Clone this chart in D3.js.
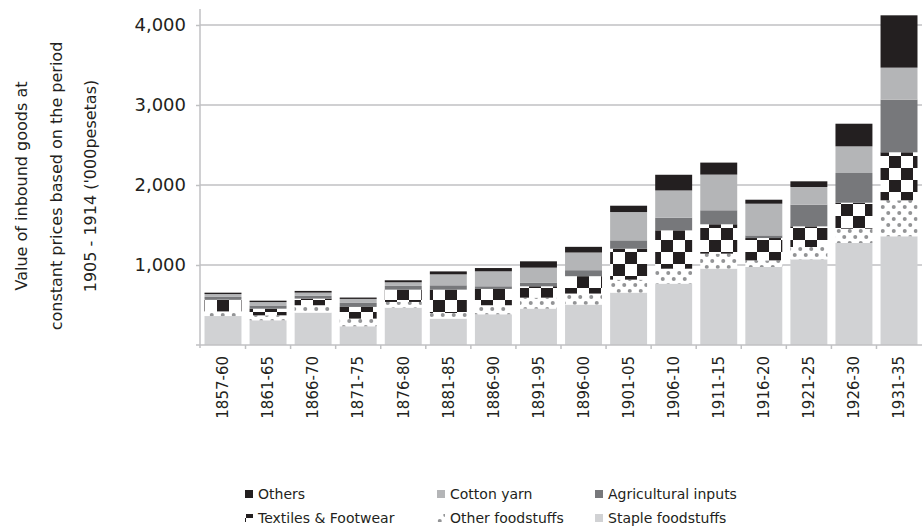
<!DOCTYPE html>
<html lang="en">
<head>
    <meta charset="UTF-8">
    <title>Value of inbound goods</title>
    <script src="https://cdnjs.cloudflare.com/ajax/libs/d3/7.8.5/d3.min.js"></script>
    <style>
        body {
            margin: 0;
            background: #fff;
            font-family: "DejaVu Sans", sans-serif;
        }
        svg text {
            fill: #231f20;
        }
    </style>
</head>
<body>
    <svg id="chart" width="922" height="529"></svg>

    <script>
        // periods on the x axis
        const periods = ["1857-60", "1861-65", "1866-70", "1871-75", "1876-80", "1881-85", "1886-90", "1891-95",
            "1896-00", "1901-05", "1906-10", "1911-15", "1916-20", "1921-25", "1926-30", "1931-35"];

        // series values, '000 pesetas (stacked bottom to top)
        const staple = [362, 309, 405, 234, 467, 330, 384, 455, 505, 655, 767, 955, 975, 1071, 1275, 1359];
        const otherFood = [58, 62, 92, 96, 71, 70, 113, 137, 138, 162, 187, 187, 83, 154, 179, 450];
        const textiles = [146, 83, 83, 146, 154, 292, 204, 142, 217, 387, 479, 367, 279, 258, 325, 600];
        const agri = [35, 40, 35, 50, 47, 54, 33, 46, 75, 104, 158, 175, 33, 271, 371, 658];
        const cotton = [36, 43, 40, 50, 45, 137, 187, 187, 221, 354, 341, 446, 396, 221, 333, 400];
        const others = [17, 17, 21, 17, 25, 37, 41, 79, 71, 79, 196, 150, 50, 71, 283, 654];

        const yTicks = [0, 1000, 2000, 3000, 4000];

        const seriesKeys = ["staple", "otherFood", "textiles", "agri", "cotton", "others"];
        const seriesNames = {
            staple: "Staple foodstuffs",
            otherFood: "Other foodstuffs",
            textiles: "Textiles & Footwear",
            agri: "Agricultural inputs",
            cotton: "Cotton yarn",
            others: "Others"
        };
        const fills = {
            staple: "#d1d2d4",
            otherFood: "url(#dots)",
            textiles: "url(#checker)",
            agri: "#77787b",
            cotton: "#b4b5b7",
            others: "#231f20"
        };
        const legendOrder = ["others", "cotton", "agri", "textiles", "otherFood", "staple"];

        const table = periods.map((p, i) => ({
            period: p,
            staple: staple[i],
            otherFood: otherFood[i],
            textiles: textiles[i],
            agri: agri[i],
            cotton: cotton[i],
            others: others[i]
        }));

        const svg = d3.select("#chart");
        const gridColor = "#c0c1c3";

        // patterns
        const defs = svg.append("defs");
        const checker = defs.append("pattern")
            .attr("id", "checker")
            .attr("patternUnits", "userSpaceOnUse")
            .attr("x", 205).attr("y", 0)
            .attr("width", 24).attr("height", 24);
        checker.append("rect").attr("width", 24).attr("height", 24).attr("fill", "#fff");
        checker.append("rect").attr("width", 12).attr("height", 12).attr("fill", "#231f20");
        checker.append("rect").attr("x", 12).attr("y", 12).attr("width", 12).attr("height", 12).attr("fill", "#231f20");

        const dots = defs.append("pattern")
            .attr("id", "dots")
            .attr("patternUnits", "userSpaceOnUse")
            .attr("width", 11).attr("height", 12);
        dots.append("rect").attr("width", 11).attr("height", 12).attr("fill", "#fff");
        dots.append("circle").attr("cx", 2.75).attr("cy", 3).attr("r", 2).attr("fill", "#939496");
        dots.append("circle").attr("cx", 8.25).attr("cy", 9).attr("r", 2).attr("fill", "#939496");

        const x = d3.scaleBand()
            .domain(periods)
            .range([200, 922])
            .paddingInner(0.18)
            .paddingOuter(0.1);

        const y = d3.scaleLinear()
            .domain([0, 4200])
            .range([345, 9]);

        // gridlines
        svg.append("g")
            .selectAll("line")
            .data(yTicks.slice(1))
            .join("line")
            .attr("x1", 200).attr("x2", 922)
            .attr("y1", d => y(d)).attr("y2", d => y(d))
            .attr("stroke", gridColor)
            .attr("stroke-width", 1.5);

        // bars
        const stacked = d3.stack().keys(seriesKeys)(table);
        svg.append("g")
            .selectAll("g")
            .data(stacked)
            .join("g")
            .attr("fill", d => fills[d.key])
            .selectAll("rect")
            .data(d => d)
            .join("rect")
            .attr("x", d => x(d.data.period))
            .attr("width", x.bandwidth())
            .attr("y", d => y(d[1]))
            .attr("height", d => y(d[0]) - y(d[1]));

        // y axis
        const yAxis = svg.append("g")
            .attr("transform", "translate(200,0)")
            .call(d3.axisLeft(y).tickValues(yTicks.slice(1)).tickSize(4).tickPadding(10)
                .tickFormat(d3.format(",")));
        yAxis.select(".domain").remove();
        yAxis.selectAll(".tick line").attr("stroke", gridColor).attr("stroke-width", 1.5);
        yAxis.selectAll(".tick text")
            .attr("font-family", "DejaVu Sans")
            .attr("font-size", 18)
            .attr("fill", "#231f20");
        svg.append("line")
            .attr("x1", 200).attr("x2", 200)
            .attr("y1", y(4200)).attr("y2", y(0) + 3)
            .attr("stroke", gridColor).attr("stroke-width", 1.5);
        svg.append("line")
            .attr("x1", 196).attr("x2", 200)
            .attr("y1", y(0)).attr("y2", y(0))
            .attr("stroke", gridColor).attr("stroke-width", 1.5);

        // x axis
        svg.append("line")
            .attr("x1", 200).attr("x2", 922)
            .attr("y1", y(0)).attr("y2", y(0))
            .attr("stroke", gridColor).attr("stroke-width", 1.5);
        const gap = x.step() * x.paddingInner();
        svg.append("g")
            .selectAll("line")
            .data(periods.slice(1))
            .join("line")
            .attr("x1", d => x(d) - gap / 2).attr("x2", d => x(d) - gap / 2)
            .attr("y1", y(0)).attr("y2", y(0) + 4)
            .attr("stroke", gridColor).attr("stroke-width", 1.5);

        svg.append("g")
            .selectAll("text")
            .data(periods)
            .join("text")
            .attr("transform", d => `translate(${x(d) + x.bandwidth() / 2},356) rotate(-90)`)
            .attr("text-anchor", "end")
            .attr("dy", "0.35em")
            .attr("font-size", 15)
            .text(d => d);

        // y axis title
        const titleLines = ["Value of inbound goods at", "constant prices based on the period", "1905 - 1914 ('000pesetas)"];
        const titleX = [21, 56, 90];
        svg.append("g")
            .selectAll("text")
            .data(titleLines)
            .join("text")
            .attr("transform", (d, i) => `translate(${titleX[i]},186) rotate(-90)`)
            .attr("text-anchor", "middle")
            .attr("dy", "0.35em")
            .attr("font-size", 16)
            .text(d => d);

        // legend
        const legendX = [245, 437, 595];
        const legendY = [494, 518];
        const legend = svg.append("g")
            .selectAll("g")
            .data(legendOrder)
            .join("g")
            .attr("transform", (d, i) => `translate(${legendX[i % 3]},${legendY[Math.floor(i / 3)]})`);
        legend.append("rect")
            .attr("x", 0).attr("y", -4)
            .attr("width", 8).attr("height", 8)
            .attr("fill", d => fills[d]);
        legend.append("text")
            .attr("x", 13)
            .attr("dy", "0.35em")
            .attr("font-size", 14)
            .text(d => seriesNames[d]);
    </script>
</body>
</html>
